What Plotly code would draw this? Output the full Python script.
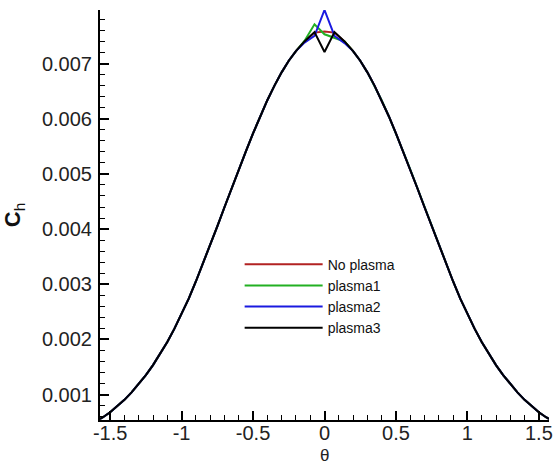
import plotly.graph_objects as go

# ---- data ----
theta_left = [-1.5708, -1.55, -1.50, -1.45, -1.40, -1.35, -1.30, -1.25, -1.20, -1.15,
              -1.10, -1.05, -1.00, -0.95, -0.90, -0.85, -0.80, -0.75, -0.70, -0.65,
              -0.60, -0.55, -0.50, -0.45, -0.40, -0.35, -0.30, -0.25, -0.20]
theta_peak = [-0.14, -0.07, 0.0, 0.07, 0.14]
theta_right = [0.20, 0.25, 0.30, 0.35, 0.40, 0.45, 0.50, 0.55, 0.60, 0.65,
               0.70, 0.75, 0.80, 0.85, 0.90, 0.95, 1.00, 1.05, 1.10, 1.15,
               1.20, 1.25, 1.30, 1.35, 1.40, 1.45, 1.50, 1.55, 1.5708]

left_wing = [0.000560, 0.000590, 0.000680, 0.000785, 0.000905, 0.001040, 0.001190, 0.001355, 0.001535, 0.001735,
             0.001955, 0.002195, 0.002455, 0.002740, 0.003050, 0.003375, 0.003710, 0.004050, 0.004395, 0.004740,
             0.005080, 0.005410, 0.005735, 0.006045, 0.006335, 0.006600, 0.006840, 0.007050, 0.007225]
right_wing = [0.007225, 0.007050, 0.006840, 0.006600, 0.006335, 0.006045, 0.005735, 0.005410, 0.005080, 0.004740,
              0.004395, 0.004050, 0.003710, 0.003375, 0.003050, 0.002740, 0.002455, 0.002195, 0.001955, 0.001735,
              0.001535, 0.001355, 0.001190, 0.001040, 0.000905, 0.000785, 0.000680, 0.000590, 0.000560]

# values at theta = -0.14, -0.07, 0, 0.07, 0.14
peak_no_plasma = [0.00740, 0.00756, 0.00758, 0.00756, 0.00740]
peak_plasma1 = [0.00741, 0.00771, 0.00753, 0.00747, 0.00740]
peak_plasma2 = [0.00738, 0.00750, 0.00797, 0.00750, 0.00737]
peak_plasma3 = [0.00740, 0.00757, 0.00721, 0.00757, 0.00740]

series_names = ["No plasma", "plasma1", "plasma2", "plasma3"]
series_peaks = [peak_no_plasma, peak_plasma1, peak_plasma2, peak_plasma3]
series_colors = ["#b22222", "#22b022", "#1a1ae0", "#000000"]

x_tick_vals = [-1.5, -1, -0.5, 0, 0.5, 1, 1.5]
x_tick_text = ["-1.5", "-1", "-0.5", "0", "0.5", "1", "1.5"]
y_tick_vals = [0.001, 0.002, 0.003, 0.004, 0.005, 0.006, 0.007]
y_tick_text = ["0.001", "0.002", "0.003", "0.004", "0.005", "0.006", "0.007"]

theta = theta_left + theta_peak + theta_right

fig = go.Figure()
for name, peak, color in zip(series_names, series_peaks, series_colors):
    fig.add_trace(go.Scatter(
        x=theta, y=left_wing + peak + right_wing, mode="lines", name=name,
        line=dict(color=color, width=2)))

font_family = "Liberation Sans, Arial, Helvetica, sans-serif"
axis_common = dict(
    showline=True, linecolor="black", linewidth=2, mirror=False,
    showgrid=False, zeroline=False,
    ticks="inside", ticklen=9, tickwidth=2, tickcolor="black",
    tickfont=dict(family=font_family, size=20, color="#222"),
)

fig.update_layout(
    width=558, height=464,
    margin=dict(l=100, r=5, t=10, b=44),
    paper_bgcolor="white", plot_bgcolor="white",
    showlegend=True,
    legend=dict(x=0.311, y=0.418, xanchor="left", yanchor="top",
                bgcolor="rgba(0,0,0,0)", font=dict(family=font_family, size=14, color="#111"),
                itemwidth=78, tracegroupgap=0),
    xaxis=dict(range=[-1.5708, 1.5708], tickvals=x_tick_vals, ticktext=x_tick_text,
               ticklabelstandoff=-6,
               minor=dict(dtick=0.1, ticks="inside", ticklen=5, tickwidth=1, tickcolor="black"),
               **axis_common),
    yaxis=dict(range=[0.00054, 0.00797], tickvals=y_tick_vals, ticktext=y_tick_text,
               ticklabelstandoff=2,
               minor=dict(dtick=0.0002, tick0=0, ticks="inside", ticklen=5, tickwidth=1, tickcolor="black"),
               title=dict(text="<b>C</b><sub>h</sub>", font=dict(family=font_family, size=22, color="#111"), standoff=18),
               **axis_common),
    annotations=[dict(text="θ", xref="x", yref="paper", x=0, y=-0.0585, xanchor="center", yanchor="top",
                      showarrow=False, font=dict(family=font_family, size=17, color="#222"))],
)

fig.write_html("out.html")
